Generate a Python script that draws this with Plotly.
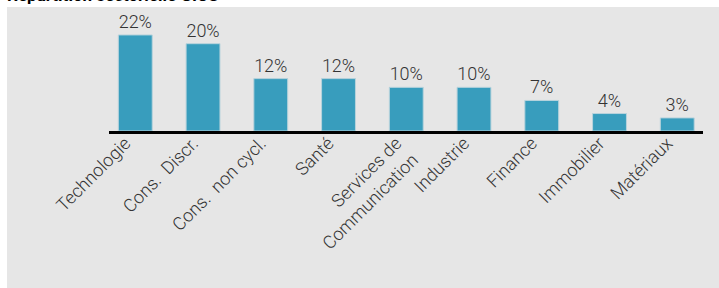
import plotly.graph_objects as go

categories = ["Technologie", "Cons.  Discr.", "Cons.  non cycl.", "Santé",
              "Services de<br>Communication", "Industrie", "Finance",
              "Immobilier", "Matériaux"]
values = [22, 20, 12, 12, 10, 10, 7, 4, 3]
labels = [f"{v}%" for v in values]
title = "Répartition sectorielle GICS"

W, H = 719, 288
ml, mr, mt, mb = 109, 16, 7, 157
pw, ph = W - ml - mr, H - mt - mb


def px_x(px):
    return (px - ml) / pw


def px_y(py):
    return (H - mb - py) / ph


fig = go.Figure(go.Bar(
    x=list(range(len(categories))),
    y=values,
    text=labels,
    textposition="outside",
    cliponaxis=False,
    textfont=dict(family="Roboto", size=18, color="#333333", weight=300),
    marker=dict(color="#389DBD", line=dict(color="#b8d3dc", width=1)),
    width=0.5,
    hoverinfo="skip",
))

# grey panel
fig.add_shape(type="rect", xref="paper", yref="paper",
              x0=px_x(7), x1=px_x(W + 10), y0=px_y(H + 10), y1=px_y(7),
              line=dict(width=0), fillcolor="#e6e6e6", layer="below")

fig.add_annotation(text=f"<b>{title}</b>", xref="paper", yref="paper",
                   x=px_x(5), y=px_y(7),
                   xanchor="left", yanchor="bottom", showarrow=False,
                   font=dict(family="Roboto", size=17, color="#000000"))

fig.update_layout(
    width=W, height=H,
    margin=dict(l=ml, r=mr, t=mt, b=mb),
    paper_bgcolor="white",
    plot_bgcolor="rgba(0,0,0,0)",
    showlegend=False,
    font=dict(family="Roboto", color="#333333"),
    xaxis=dict(
        range=[-0.388, 8.38],
        tickmode="array",
        tickvals=list(range(len(categories))),
        ticktext=categories,
        tickangle=-45,
        tickfont=dict(family="Roboto", size=18, color="#333333", weight=300),
        ticklabelshift=-10,
        ticklabelstandoff=-8,
        showgrid=False, zeroline=False,
        showline=True, linecolor="#000000", linewidth=2.6,
        ticks="",
    ),
    yaxis=dict(range=[0, 28.4], visible=False, showgrid=False, zeroline=False),
)

fig.write_html("out.html", config={"displayModeBar": False},
               post_script="document.body.style.margin='0px';")
